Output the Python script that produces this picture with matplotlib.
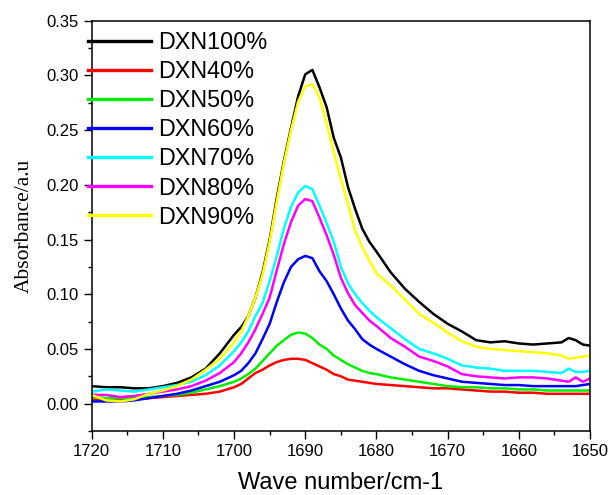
import matplotlib
matplotlib.use("Agg")
import matplotlib.pyplot as plt
from matplotlib.ticker import MultipleLocator

wavenumber = [1720, 1718, 1716, 1714, 1712, 1710, 1708, 1706, 1704, 1702,
              1700, 1699, 1698, 1697, 1696, 1695, 1694, 1693, 1692, 1691,
              1690, 1689, 1688, 1687, 1686, 1685, 1684, 1683, 1682, 1681,
              1680, 1678, 1676, 1674, 1672, 1670, 1668, 1666, 1664, 1662,
              1660, 1658, 1656, 1654, 1653, 1652, 1651, 1650]

dxn100 = [0.016, 0.015, 0.015, 0.014, 0.014, 0.016, 0.019, 0.024, 0.032, 0.046,
          0.063, 0.070, 0.080, 0.097, 0.120, 0.150, 0.188, 0.222, 0.252, 0.281,
          0.301, 0.305, 0.289, 0.271, 0.243, 0.225, 0.198, 0.178, 0.160, 0.148,
          0.139, 0.120, 0.105, 0.093, 0.082, 0.073, 0.066, 0.058, 0.056, 0.057,
          0.055, 0.054, 0.055, 0.056, 0.060, 0.058, 0.054, 0.053]
dxn40 = [0.004, 0.003, 0.003, 0.004, 0.005, 0.006, 0.007, 0.008, 0.009, 0.011,
         0.015, 0.018, 0.023, 0.028, 0.031, 0.035, 0.038, 0.040, 0.041, 0.041,
         0.040, 0.037, 0.034, 0.031, 0.027, 0.025, 0.022, 0.021, 0.020, 0.019,
         0.018, 0.017, 0.016, 0.015, 0.014, 0.014, 0.013, 0.012, 0.011, 0.011,
         0.010, 0.010, 0.009, 0.009, 0.009, 0.009, 0.009, 0.009]
dxn50 = [0.006, 0.005, 0.005, 0.005, 0.006, 0.007, 0.008, 0.010, 0.013, 0.016,
         0.020, 0.023, 0.027, 0.032, 0.039, 0.046, 0.053, 0.058, 0.063, 0.065,
         0.064, 0.060, 0.054, 0.050, 0.044, 0.040, 0.036, 0.033, 0.030, 0.028,
         0.027, 0.024, 0.022, 0.020, 0.018, 0.016, 0.015, 0.015, 0.014, 0.014,
         0.013, 0.013, 0.012, 0.012, 0.012, 0.012, 0.012, 0.012]
dxn60 = [0.002, 0.002, 0.002, 0.003, 0.005, 0.007, 0.009, 0.012, 0.016, 0.020,
         0.026, 0.030, 0.037, 0.046, 0.059, 0.073, 0.093, 0.111, 0.125, 0.132,
         0.135, 0.133, 0.121, 0.112, 0.100, 0.087, 0.076, 0.068, 0.059, 0.054,
         0.050, 0.043, 0.036, 0.030, 0.026, 0.023, 0.020, 0.019, 0.018, 0.017,
         0.017, 0.016, 0.016, 0.016, 0.016, 0.016, 0.017, 0.018]
dxn70 = [0.011, 0.013, 0.012, 0.011, 0.013, 0.015, 0.017, 0.020, 0.026, 0.035,
         0.048, 0.056, 0.066, 0.080, 0.092, 0.112, 0.135, 0.160, 0.180, 0.193,
         0.199, 0.196, 0.181, 0.165, 0.148, 0.125, 0.110, 0.100, 0.092, 0.085,
         0.079, 0.069, 0.059, 0.050, 0.046, 0.041, 0.035, 0.033, 0.032, 0.030,
         0.030, 0.030, 0.029, 0.028, 0.032, 0.029, 0.029, 0.030]
dxn80 = [0.008, 0.008, 0.006, 0.007, 0.009, 0.011, 0.013, 0.016, 0.021, 0.028,
         0.038, 0.046, 0.056, 0.068, 0.082, 0.097, 0.122, 0.146, 0.166, 0.181,
         0.187, 0.185, 0.170, 0.154, 0.136, 0.115, 0.101, 0.090, 0.083, 0.076,
         0.071, 0.060, 0.052, 0.043, 0.039, 0.034, 0.027, 0.025, 0.024, 0.023,
         0.024, 0.024, 0.023, 0.021, 0.020, 0.024, 0.020, 0.023]
dxn90 = [0.008, 0.003, 0.002, 0.004, 0.009, 0.012, 0.016, 0.022, 0.031, 0.041,
         0.056, 0.066, 0.080, 0.097, 0.118, 0.148, 0.185, 0.220, 0.250, 0.276,
         0.290, 0.292, 0.280, 0.256, 0.230, 0.205, 0.183, 0.158, 0.143, 0.131,
         0.119, 0.108, 0.095, 0.082, 0.074, 0.065, 0.057, 0.052, 0.050, 0.049,
         0.048, 0.047, 0.046, 0.044, 0.041, 0.042, 0.043, 0.044]

labels = ["DXN100%", "DXN40%", "DXN50%", "DXN60%", "DXN70%", "DXN80%", "DXN90%"]
series = [dxn100, dxn40, dxn50, dxn60, dxn70, dxn80, dxn90]
colors = ["#000000", "#FF0000", "#00EE00", "#0000FF", "#00FFFF", "#FF00FF", "#FFFF00"]

fig = plt.figure(figsize=(6.09, 4.95), dpi=100)
ax = fig.add_axes([0.1506, 0.1293, 0.8182, 0.8289])

for ys, lab, c in zip(series, labels, colors):
    ax.plot(wavenumber, ys, color=c, lw=1.8, label=lab)

ax.set_xlim(1720, 1650)
ax.set_ylim(-0.025, 0.35)
ax.xaxis.set_major_locator(MultipleLocator(10))
ax.xaxis.set_minor_locator(MultipleLocator(5))
ax.yaxis.set_minor_locator(MultipleLocator(0.025))
ax.set_yticks([0.0, 0.05, 0.10, 0.15, 0.20, 0.25, 0.30, 0.35])
ax.set_yticklabels(["0.00", "0.05", "0.10", "0.15", "0.20", "0.25", "0.30", "0.35"])

for sp in ax.spines.values():
    sp.set_linewidth(1.1)
ax.tick_params(which="major", direction="out", length=6, width=1.0,
               labelsize=12, top=False, right=False)
ax.tick_params(which="minor", direction="out", length=3, width=1.0,
               top=False, right=False)
for t in ax.get_xticklabels() + ax.get_yticklabels():
    t.set_fontfamily("Liberation Sans")

ax.set_xlabel("Wave number/cm-1", fontsize=17, fontfamily="Liberation Sans", labelpad=9)
ax.set_ylabel("Absorbance/a.u", fontsize=15.5, fontfamily="Liberation Serif", labelpad=9)

leg = ax.legend(loc="upper left", bbox_to_anchor=(0.1445, 0.937),
                bbox_transform=fig.transFigure, frameon=False,
                prop={"family": "Liberation Sans", "size": 16.8},
                handlelength=2.7, handletextpad=0.29, labelspacing=0.26,
                borderpad=0, borderaxespad=0)
for line in leg.get_lines():
    line.set_linewidth(2.4)

fig.savefig("out.png", dpi=100)
